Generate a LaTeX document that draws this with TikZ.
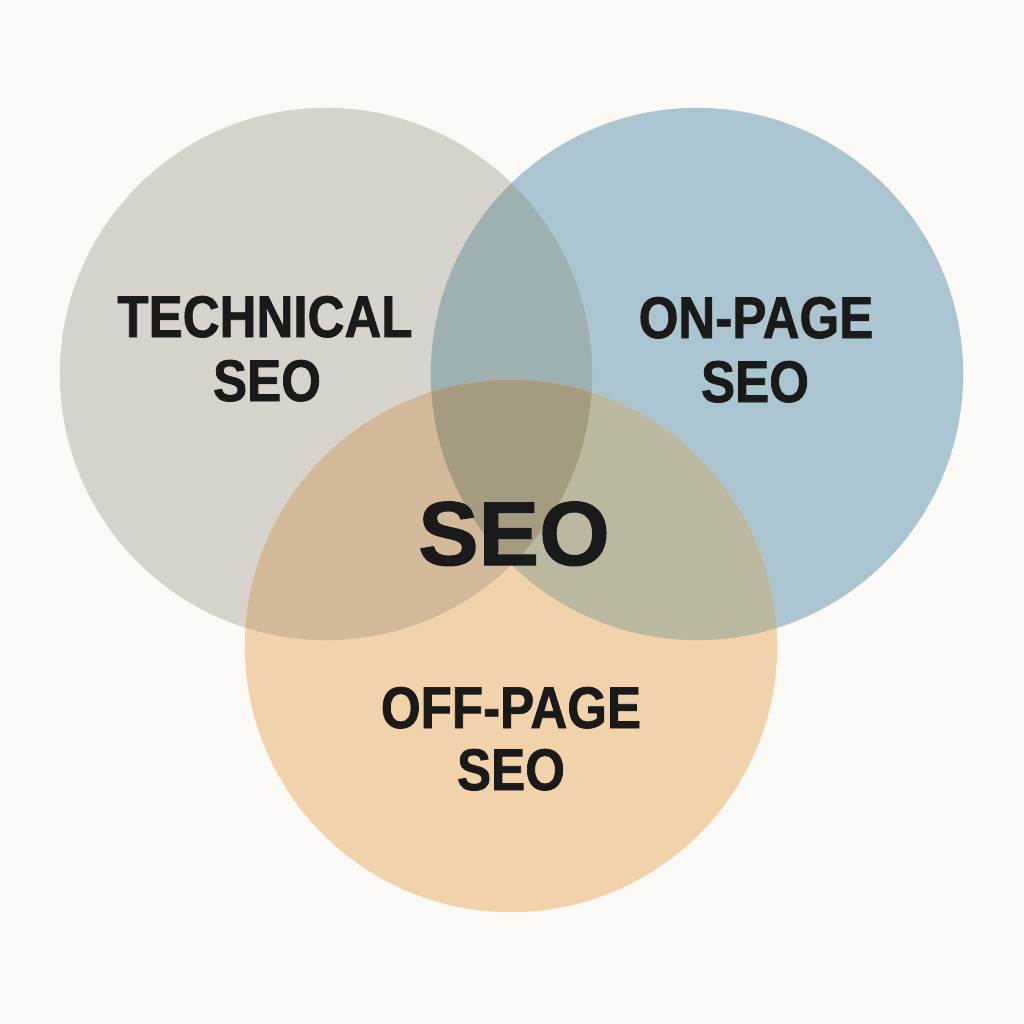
\documentclass[tikz,border=0pt]{standalone}
\usepackage{fontspec}
\setmainfont{Liberation Sans}[FakeBold=1.2]
\newfontfamily\labfont{Liberation Sans}[FakeStretch=0.87,FakeBold=1.2]
\definecolor{bg}{HTML}{FAF9F6}
\definecolor{cgrey}{HTML}{D6D2CC}
\definecolor{cblue}{HTML}{AAC5CF}
\definecolor{corange}{HTML}{F2D2AB}
\definecolor{cgb}{HTML}{9FB0B2}
\definecolor{cgo}{HTML}{D2B99A}
\definecolor{cbo}{HTML}{BAB89F}
\definecolor{call}{HTML}{A49B80}
\definecolor{ink}{HTML}{1A1A1A}
\tikzset{
  lab/.style={text=ink, font=\labfont\bfseries\fontsize{16.7}{18}\selectfont, anchor=base, inner sep=0pt},
  big/.style={text=ink, font=\bfseries\fontsize{25.8}{28}\selectfont, anchor=base, inner sep=0pt}
}
\begin{document}
\begin{tikzpicture}[x=0.01cm,y=-0.01cm]
\fill[bg] (0,0) rectangle (1024,1024);
\useasboundingbox (0,0) rectangle (1024,1024);
\coordinate (cg) at (326,374);
\coordinate (cb) at (697,374);
\coordinate (co) at (511,646);
\def\R{2.66cm}
\fill[cgrey] (cg) circle[radius=\R];
\fill[cblue] (cb) circle[radius=\R];
\fill[corange] (co) circle[radius=\R];
\begin{scope}
  \clip (cg) circle[radius=\R];
  \fill[cgb] (cb) circle[radius=\R];
  \fill[cgo] (co) circle[radius=\R];
\end{scope}
\begin{scope}
  \clip (cb) circle[radius=\R];
  \fill[cbo] (co) circle[radius=\R];
\end{scope}
\begin{scope}
  \clip (cg) circle[radius=\R];
  \clip (cb) circle[radius=\R];
  \fill[call] (co) circle[radius=\R];
\end{scope}
\node[lab] (t1) at (265,337) {TECHNICAL};
\node[lab] (t2) at (267,401) {SEO};
\node[lab] (p1) at (756,338) {ON-PAGE};
\node[lab] (p2) at (755,402) {SEO};
\node[lab] (o1) at (511,728) {OFF-PAGE};
\node[lab] (o2) at (511,790) {SEO};
\node[big] (seo) at (514,565) {SEO};
\end{tikzpicture}
\end{document}
